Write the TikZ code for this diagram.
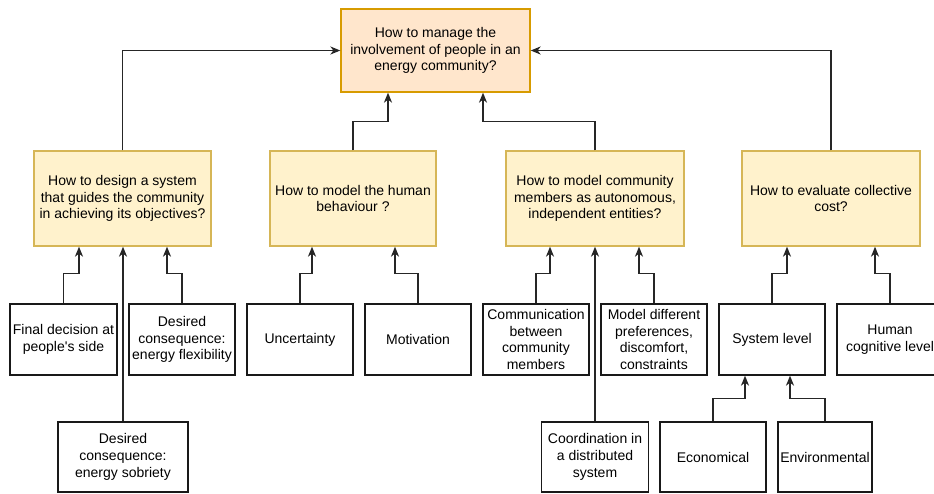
\documentclass[tikz,border=0pt]{standalone}
\usepackage{fontspec}
\setmainfont{Liberation Sans}
\usetikzlibrary{arrows.meta}
\definecolor{topfill}{HTML}{FFE6CC}
\definecolor{topline}{HTML}{D79B00}
\definecolor{midfill}{HTML}{FFF2CC}
\definecolor{midline}{HTML}{D6B656}
\tikzset{
  base/.style={rectangle, draw, line width=1.3pt, inner sep=0pt, align=center,
    font=\fontsize{14}{16.8}\selectfont},
  topbox/.style={base, fill=topfill, draw=topline, minimum width=189pt, minimum height=83pt},
  midbox/.style={base, fill=midfill, draw=midline, minimum height=95pt},
  leafbox/.style={base, fill=white, draw=black!90, minimum height=71pt, minimum width=106pt},
  arr/.style={draw=black!85, line width=1.3pt, -{Stealth[length=10pt,width=8pt,inset=3pt]}}
}
\begin{document}
\begin{tikzpicture}[x=1pt,y=-1pt]
\useasboundingbox (0,0) rectangle (934,493);
\clip (0,0) rectangle (934,493);
\node[topbox] (top) at (435.5,50.5) {How to manage the\\involvement of people in an\\energy community?};
\node[midbox, minimum width=177pt] (A) at (122.5,198.5) {How to design a system\\that guides the community\\in achieving its objectives?};
\node[midbox, minimum width=166pt] (B) at (353,198.5) {How to model the human\\behaviour ?};
\node[midbox, minimum width=178pt] (C) at (595,198.5) {How to model community\\members as autonomous,\\independent entities?};
\node[midbox, minimum width=178pt] (D) at (831,198.5) {How to evaluate collective\\cost?};
\node[leafbox, minimum width=107pt] (fd) at (63.5,339.5) {Final decision at\\people\textquotesingle s side};
\node[leafbox] (flex) at (182,339.5) {Desired\\consequence:\\energy flexibility};
\node[leafbox] (unc) at (300,339.5) {Uncertainty};
\node[leafbox] (mot) at (418,339.5) {Motivation};
\node[leafbox] (com) at (536,339.5) {Communication\\between\\community\\members};
\node[leafbox] (mod) at (654,339.5) {Model different\\preferences,\\discomfort,\\constraints};
\node[leafbox] (sys) at (772,339.5) {System level};
\node[leafbox] (hum) at (890,339.5) {Human\\cognitive level};
\node[leafbox, minimum width=130pt, minimum height=70pt] (sob) at (123,457) {Desired\\consequence:\\energy sobriety};
\node[leafbox, minimum width=107pt, minimum height=70pt] (coo) at (595,457) {Coordination in\\a distributed\\system};
\node[leafbox, minimum height=70pt] (eco) at (713,457) {Economical};
\node[leafbox, minimum width=94pt, minimum height=70pt] (env) at (825,457) {Environmental};
% to top
\draw[arr] (A.north) |- (top.west);
\draw[arr] (D.north) |- (top.east);
\draw[arr] (B.north) -- ++(0,-29) -| ([xshift=-47.5pt]top.south);
\draw[arr] (C.north) -- ++(0,-29) -| ([xshift=47.5pt]top.south);
% to A
\draw[arr] (fd.north) -- ++(0,-30) -| ([xshift=-43.5pt]A.south);
\draw[arr] (sob.north) -- (sob.north |- A.south);
\draw[arr] (flex.north) -- ++(0,-30) -| ([xshift=44.5pt]A.south);
% to B
\draw[arr] (unc.north) -- ++(0,-30) -| ([xshift=-41pt]B.south);
\draw[arr] (mot.north) -- ++(0,-30) -| ([xshift=42pt]B.south);
% to C
\draw[arr] (com.north) -- ++(0,-30) -| ([xshift=-45pt]C.south);
\draw[arr] (coo.north) -- (coo.north |- C.south);
\draw[arr] (mod.north) -- ++(0,-30) -| ([xshift=44pt]C.south);
% to D
\draw[arr] (sys.north) -- ++(0,-30) -| ([xshift=-44pt]D.south);
\draw[arr] (hum.north) -- ++(0,-30) -| ([xshift=44pt]D.south);
% to system level
\draw[arr] (eco.north) -- ++(0,-23) -| ([xshift=-27pt]sys.south);
\draw[arr] (env.north) -- ++(0,-23) -| ([xshift=18pt]sys.south);
\end{tikzpicture}
\end{document}
